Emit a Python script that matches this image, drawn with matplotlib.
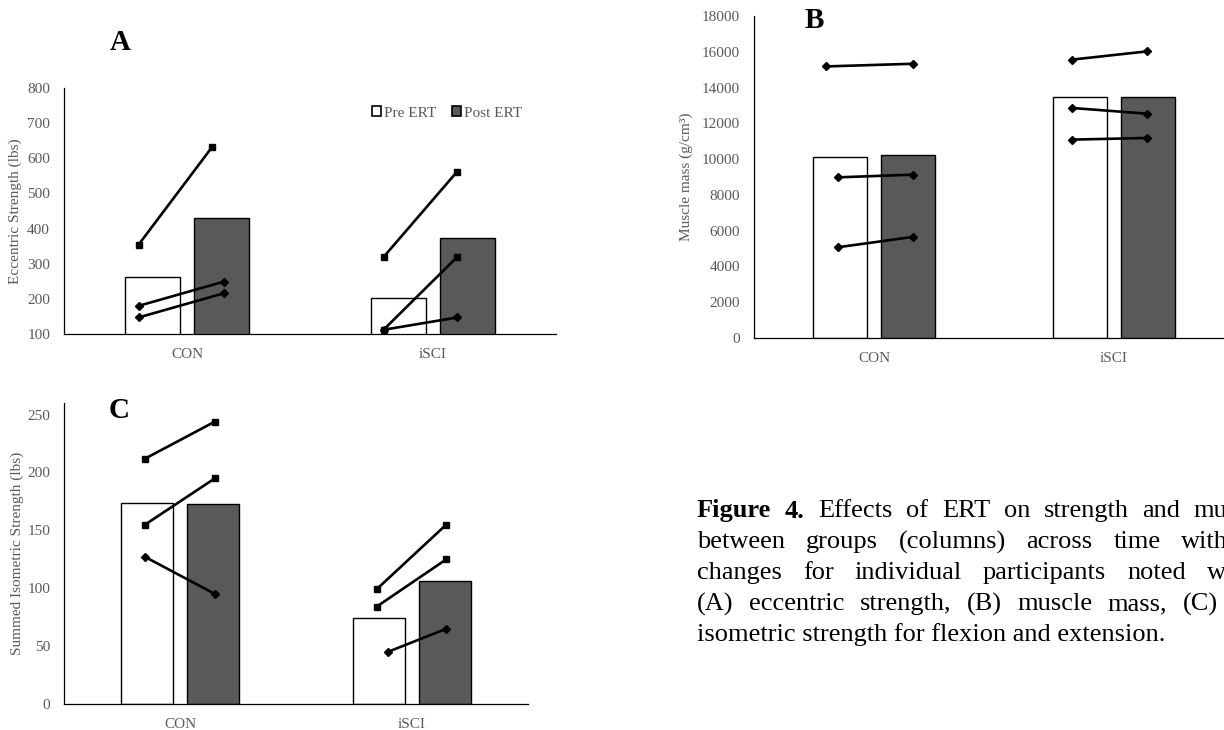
import matplotlib
matplotlib.use("Agg")
import matplotlib.pyplot as plt
from matplotlib.patches import Patch
import numpy as np

# ---- data ----
groups = ["CON", "iSCI"]
series = ["Pre ERT", "Post ERT"]

# A: eccentric strength (lbs)
ecc_pre = [262, 203]
ecc_post = [430, 373]
ecc_ind_pre = [[354, 180, 147], [319, 112, 112]]
ecc_ind_post = [[632, 249, 216], [562, 319, 147]]

# B: muscle mass
mass_pre = [10120, 13490]
mass_post = [10230, 13490]
mass_ind_pre = [[15180, 8980, 5070], [15560, 12860, 11090]]
mass_ind_post = [[15330, 9130, 5650], [16020, 12540, 11180]]

# C: summed isometric strength (lbs)
iso_pre = [173.6, 73.9]
iso_post = [173.0, 106.6]
iso_ind_pre = [[212, 155, 127], [99, 84, 45]]
iso_ind_post = [[244, 195, 95], [155, 125, 65]]

caption_lines = [
    ["Figure", "4.", "Effects", "of", "ERT", "on", "strength", "and", "muscle"],
    ["between", "groups", "(columns)", "across", "time", "with"],
    ["changes", "for", "individual", "participants", "noted", "with"],
    ["(A)", "eccentric", "strength,", "(B)", "muscle", "mass,", "(C)"],
]
caption_last = "isometric strength for flexion and extension."

# ---- style ----
W, H = 1224, 730
GREY = "#595959"
BAR_W = 0.224
BAR_OFF = 0.142
plt.rcParams["font.family"] = ["Liberation Serif", "DejaVu Serif"]

fig = plt.figure(figsize=(W / 100, H / 100), dpi=100)


def px_axes(left, top, right, bottom):
    return fig.add_axes([left / W, 1 - bottom / H, (right - left) / W, (bottom - top) / H])


def draw_panel(ax, pre, post, ind_pre, ind_post, ylim, yticks, ylabel,
               label_x, mark_x, markers):
    x = np.arange(len(groups))
    ax.bar(x - BAR_OFF, pre, BAR_W, color="white", edgecolor="black",
           linewidth=1.0, zorder=2)
    ax.bar(x + BAR_OFF, post, BAR_W, color=GREY, edgecolor="black",
           linewidth=1.0, zorder=2)
    for g in range(len(groups)):
        for i in range(len(ind_pre[g])):
            xp, xq = mark_x[g][i]
            ax.plot([g + xp, g + xq], [ind_pre[g][i], ind_post[g][i]],
                    color="black", lw=1.9, marker=markers[g][i], ms=4.2,
                    zorder=3, clip_on=False)
    ax.set_xlim(-0.5, 1.5)
    ax.set_ylim(*ylim)
    ax.set_yticks(yticks)
    ax.set_xticks(x)
    ax.set_xticklabels(groups)
    ax.tick_params(length=0, labelsize=11, labelcolor=GREY, pad=10)
    for s in ["top", "right"]:
        ax.spines[s].set_visible(False)
    for s in ["left", "bottom"]:
        ax.spines[s].set_color("black")
        ax.spines[s].set_linewidth(0.9)
    ax.set_ylabel(ylabel, fontsize=11, color=GREY, va="center")
    ax.yaxis.set_label_coords(label_x, 0.5)


# A
axA = px_axes(64, 88, 556, 334)
draw_panel(axA, ecc_pre, ecc_post, ecc_ind_pre, ecc_ind_post, (100, 800),
           range(100, 801, 100), "Eccentric Strength (lbs)", (15 - 64) / 492,
           [[(-0.197, 0.102), (-0.197, 0.150), (-0.197, 0.150)],
            [(-0.201, 0.098), (-0.201, 0.098), (-0.201, 0.098)]],
           [["s", "D", "D"], ["s", "s", "D"]])

# B
axB = px_axes(754, 16, 1234, 338)
draw_panel(axB, mass_pre, mass_post, mass_ind_pre, mass_ind_post, (0, 18000),
           range(0, 18001, 2000), "Muscle mass (g/cm³)", (686 - 754) / 480,
           [[(-0.202, 0.162), (-0.152, 0.162), (-0.152, 0.162)],
            [(-0.176, 0.136), (-0.176, 0.136), (-0.176, 0.136)]],
           [["D", "D", "D"], ["D", "D", "D"]])

# C
axC = px_axes(64, 403, 528, 704)
draw_panel(axC, iso_pre, iso_post, iso_ind_pre, iso_ind_post, (0, 260),
           range(0, 251, 50), "Summed Isometric Strength (lbs)", (17 - 64) / 464,
           [[(-0.150, 0.151), (-0.150, 0.151), (-0.150, 0.151)],
            [(-0.153, 0.148), (-0.153, 0.148), (-0.104, 0.148)]],
           [["s", "s", "D"], ["s", "s", "D"]])

# panel letters
for letter, (lx, ly) in zip("ABC", [(120, 43), (814, 20), (119, 411)]):
    fig.text(lx / W, 1 - ly / H, letter, fontsize=21, fontweight="bold",
             ha="center", va="center")

# legend in panel A
handles = [Patch(facecolor="white", edgecolor="black", lw=1.2, label=series[0]),
           Patch(facecolor=GREY, edgecolor="black", lw=1.2, label=series[1])]
leg = fig.legend(handles=handles, loc="center", ncol=2, frameon=False,
                 bbox_to_anchor=(447 / W, 1 - 113 / H), fontsize=11,
                 handlelength=0.6, handleheight=0.6, handletextpad=0.2,
                 columnspacing=1.0, borderpad=0)
for t in leg.get_texts():
    t.set_color(GREY)

# caption, justified lines
renderer = fig.canvas.get_renderer()
cap_x0 = 697
cap_right = [1269, 1228, 1254, 1218]
cap_y0, cap_dy = 511, 31
for li, words in enumerate(caption_lines):
    y = 1 - (cap_y0 + li * cap_dy) / H
    texts, widths = [], []
    for wi, w in enumerate(words):
        bold = li == 0 and wi < 2
        t = fig.text(0, y, w, fontsize=19, fontweight="bold" if bold else "normal",
                     va="center", ha="left")
        texts.append(t)
        widths.append(t.get_window_extent(renderer).width)
    gap = (cap_right[li] - cap_x0 - sum(widths)) / (len(words) - 1)
    xpos = cap_x0
    for t, wd in zip(texts, widths):
        t.set_x(xpos / W)
        xpos += wd + gap
fig.text(cap_x0 / W, 1 - (cap_y0 + 4 * cap_dy) / H, caption_last, fontsize=19,
         va="center", ha="left")

fig.savefig("out.png", dpi=100)
